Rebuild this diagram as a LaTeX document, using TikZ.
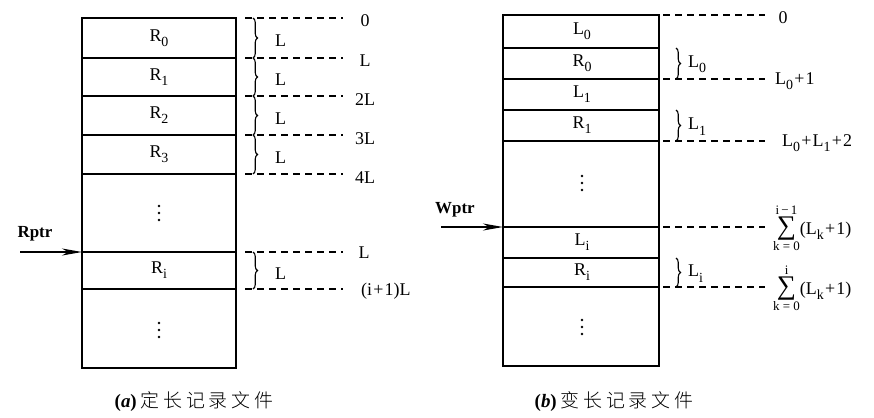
\documentclass[tikz,border=0pt]{standalone}
\usepackage{fontspec}
\setmainfont{Liberation Serif}
\newfontfamily\cjk[LetterSpace=20]{Noto Sans CJK SC Light}
\usetikzlibrary{decorations.pathreplacing,arrows.meta}
\newcommand\lo[1]{\raisebox{-0.3em}{\fontsize{14}{14}\selectfont #1}}
\newcommand\pl{\hspace{1.2bp}+\hspace{1.2bp}}
\newcommand\limtxt[1]{\hbox{\fontsize{13}{13}\selectfont #1}}
\newcommand\bigsum[2]{\ensuremath{\mathop{\hbox{\fontsize{27}{27}\selectfont\char"2211}}\limits_{\limtxt{#1}}^{\limtxt{#2}}}}
\begin{document}
\begin{tikzpicture}[x=1bp,y=-1bp,
  every node/.style={font=\fontsize{18}{18}\selectfont, inner sep=0pt},
  boxline/.style={line width=1.6bp},
  dline/.style={line width=1.2bp, dash pattern=on 7bp off 5bp},
  brc/.style={decorate, decoration={brace,amplitude=4.5bp}, line width=1.1bp},
  ptr/.style={line width=1.3bp, -{Stealth[length=20bp,width=7bp,inset=6bp]}},
  lbl/.style={anchor=west},
  dot/.style={fill=black, draw=none},
  captxt/.style={font=\fontsize{19}{19}\selectfont},
  ptrlbl/.style={font=\fontsize{17}{17}\selectfont\bfseries},
  ]
\useasboundingbox (0,0) rectangle (874,417);
% ---------- (a) ----------
\draw[boxline] (82,18) rectangle (236,368);
\foreach \y in {58,96,135,174,252,289} \draw[boxline] (82,\y) -- (236,\y);
\node (r0) at (159,38) {R\lo{0}};
\node (r1) at (159,77) {R\lo{1}};
\node (r2) at (159,115) {R\lo{2}};
\node (r3) at (159,154) {R\lo{3}};
\node (ri) at (159,270) {R\lo{i}};
\foreach \y in {213,330} {
  \fill[dot] (159,\y-7) circle (1.4bp);
  \fill[dot] (159,\y) circle (1.4bp);
  \fill[dot] (159,\y+7) circle (1.4bp);}
\foreach \y in {18,58,96,135,174,252,289} \draw[dline] (245,\y) -- (343,\y);
\foreach \a/\b in {18/58,58/96,96/135,135/174,252/289}
  {\draw[brc] (253,\a) -- (253,\b);
   \node[lbl] at (275,{(\a+\b)/2+3}) {L};}
\node (a0) at (365,21) {0};
\node (a1) at (365,61) {L};
\node[lbl] (a2) at (355,100) {2L};
\node[lbl] (a3) at (355,139) {3L};
\node[lbl] (a4) at (355,178) {4L};
\node (a5) at (364,253) {L};
\node[lbl] (a6) at (361,291) {(i\pl1)L};
\node[ptrlbl] (rptr) at (35,234) {Rptr};
\coordinate (rs) at (20,252);
\coordinate (re) at (82,252);
\draw[ptr] (rs) -- (re);
\node[captxt] (capa) at (194,402) {\textbf{(\textit{a})}\hspace{4bp}{\cjk 定长记录文件}};
% ---------- (b) ----------
\draw[boxline] (503,15) rectangle (659,366);
\foreach \y in {48,79,110,141,227,258,287} \draw[boxline] (503,\y) -- (659,\y);
\node (l0) at (582,31) {L\lo{0}};
\node (q0) at (582,63) {R\lo{0}};
\node (l1) at (582,94) {L\lo{1}};
\node (q1) at (582,125) {R\lo{1}};
\node (li) at (582,242) {L\lo{i}};
\node (qi) at (582,272) {R\lo{i}};
\foreach \y in {183,327} {
  \fill[dot] (582,\y-7) circle (1.4bp);
  \fill[dot] (582,\y) circle (1.4bp);
  \fill[dot] (582,\y+7) circle (1.4bp);}
\foreach \y in {15,79,141,227,287} \draw[dline] (663,\y) -- (765,\y);
\foreach \a/\b/\t in {48/79/0,110/141/1,258/287/i}
  {\draw[brc] (676,\a) -- (676,\b);
   \node[lbl] at (688,{(\a+\b)/2+1}) {L\lo{\t}};}
\node (b0) at (783,18) {0};
\node[lbl] (b1) at (775,81) {L\lo{0}\pl1};
\node[lbl] (b2) at (782,143) {L\lo{0}\pl L\lo{1}\pl2};
\node[anchor=base west] (b3) at (773,234) {\bigsum{k = 0}{i\,−\,1}(L\lo{k}\pl1)};
\node[anchor=base west] (b4) at (773,294) {\bigsum{k = 0}{i}(L\lo{k}\pl1)};
\node[ptrlbl] (wptr) at (455,210) {Wptr};
\coordinate (ws) at (441,227);
\coordinate (we) at (503,227);
\draw[ptr] (ws) -- (we);
\node[captxt] (capb) at (614,402) {\textbf{(\textit{b})}\hspace{4bp}{\cjk 变长记录文件}};
\end{tikzpicture}
\end{document}
